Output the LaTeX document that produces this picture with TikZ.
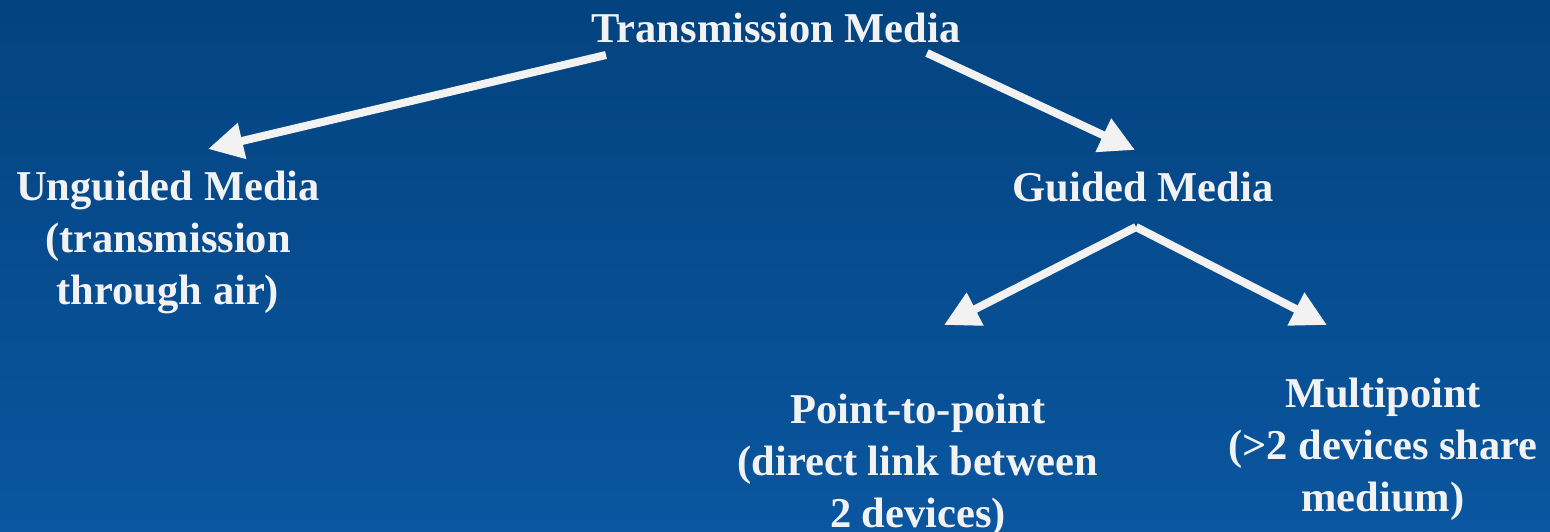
\documentclass[tikz,border=0pt]{standalone}
\usepackage{fontspec}
\setmainfont{Liberation Serif}
\usetikzlibrary{arrows.meta}
\definecolor{bgtop}{HTML}{03437F}
\definecolor{bgbot}{HTML}{0A56A0}
\definecolor{fg}{HTML}{F2F2F2}
\begin{document}
\begin{tikzpicture}[x=1pt,y=-1pt,
  lbl/.style={text=fg,font=\bfseries\fontsize{42.5}{52}\selectfont,align=center,inner sep=0pt},
  conn/.style={draw=fg,line width=8pt,-{Triangle[length=35pt,width=35pt]}}]
\shade[top color=bgtop,bottom color=bgbot] (0,0) rectangle (1550,532);
\useasboundingbox (0,0) rectangle (1550,532);
\node[lbl] (tm) at (776,28) {Transmission Media};
\node[lbl] (ug) at (168,242) {Unguided Media\\(transmission\\through air)};
\node[lbl] (gm) at (1143,187) {Guided Media};
\node[lbl] (pp) at (918,465) {Point-to-point\\(direct link between\\2 devices)};
\node[lbl] (mp) at (1383,449) {Multipoint\\(>2 devices share\\medium)};
\coordinate (tmL) at (606,55);
\coordinate (tmR) at (927,53);
\coordinate (gmB) at (1136,227);
\coordinate (ugT) at (208,149);
\coordinate (gmT) at (1135,150);
\coordinate (ppT) at (944,325);
\coordinate (mpT) at (1327,325);
\draw[conn] (tmL) -- (ugT);
\draw[conn] (tmR) -- (gmT);
\draw[conn] (gmB) -- (ppT);
\draw[conn] (gmB) -- (mpT);
\end{tikzpicture}
\end{document}
